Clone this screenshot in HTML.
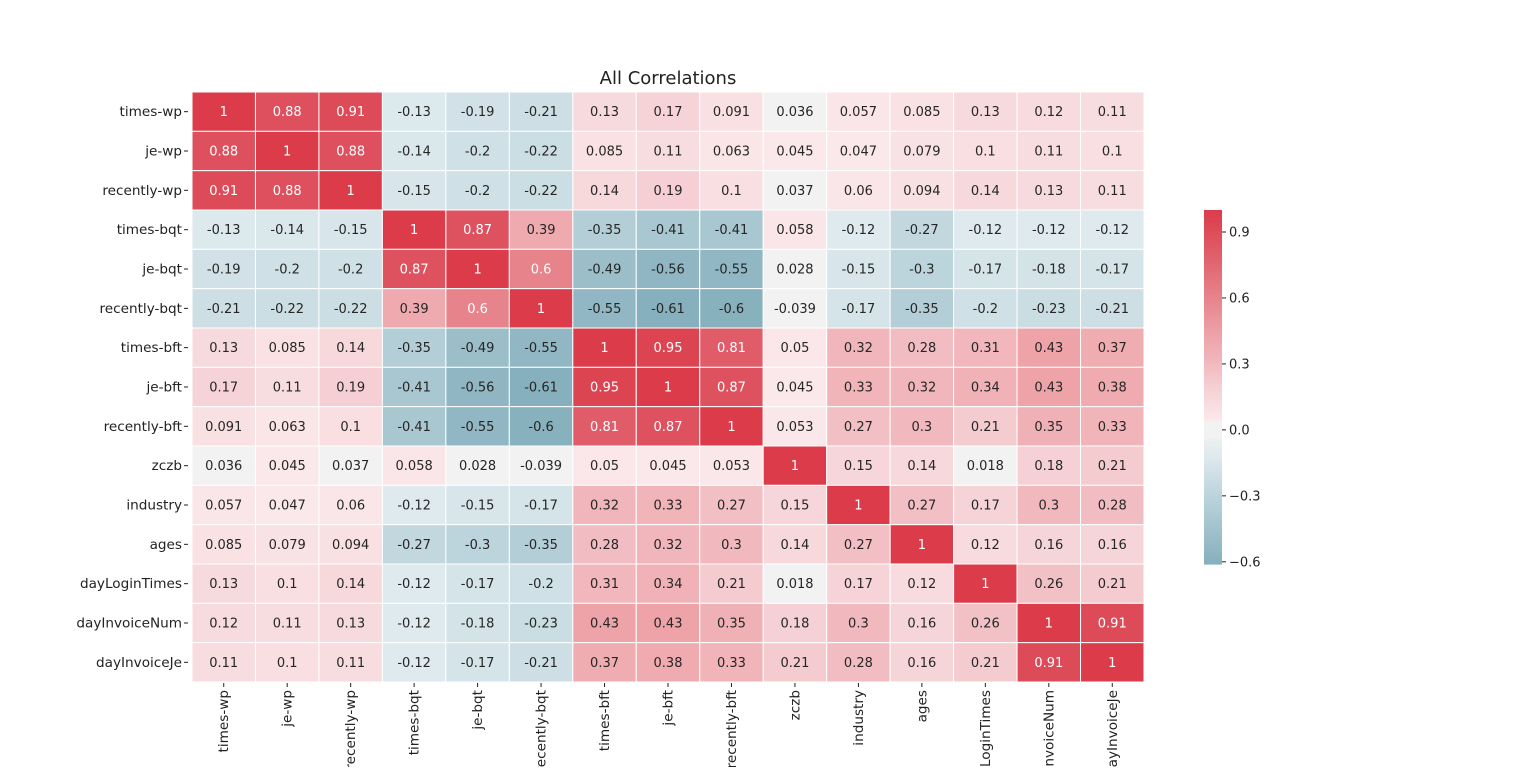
<!DOCTYPE html>
<html><head><meta charset="utf-8"><style>
body{margin:0;background:#fff;width:1536px;height:767px;overflow:hidden;font-family:"DejaVu Sans",sans-serif}
</style></head><body>
<svg id="chart" width="1536" height="767" xmlns="http://www.w3.org/2000/svg" font-family="DejaVu Sans, sans-serif">
<text x="668" y="84" font-size="18" text-anchor="middle" fill="#222">All Correlations</text>
<g id="cells"></g><g id="ylabels"></g><g id="xlabels"></g><g id="cbar"></g>
</svg>
<script>
const labels=["times-wp","je-wp","recently-wp","times-bqt","je-bqt","recently-bqt","times-bft","je-bft","recently-bft","zczb","industry","ages","dayLoginTimes","dayInvoiceNum","dayInvoiceJe"];
const matrix=[
[1,0.88,0.91,-0.13,-0.19,-0.21,0.13,0.17,0.091,0.036,0.057,0.085,0.13,0.12,0.11],
[0.88,1,0.88,-0.14,-0.2,-0.22,0.085,0.11,0.063,0.045,0.047,0.079,0.1,0.11,0.1],
[0.91,0.88,1,-0.15,-0.2,-0.22,0.14,0.19,0.1,0.037,0.06,0.094,0.14,0.13,0.11],
[-0.13,-0.14,-0.15,1,0.87,0.39,-0.35,-0.41,-0.41,0.058,-0.12,-0.27,-0.12,-0.12,-0.12],
[-0.19,-0.2,-0.2,0.87,1,0.6,-0.49,-0.56,-0.55,0.028,-0.15,-0.3,-0.17,-0.18,-0.17],
[-0.21,-0.22,-0.22,0.39,0.6,1,-0.55,-0.61,-0.6,-0.039,-0.17,-0.35,-0.2,-0.23,-0.21],
[0.13,0.085,0.14,-0.35,-0.49,-0.55,1,0.95,0.81,0.05,0.32,0.28,0.31,0.43,0.37],
[0.17,0.11,0.19,-0.41,-0.56,-0.61,0.95,1,0.87,0.045,0.33,0.32,0.34,0.43,0.38],
[0.091,0.063,0.1,-0.41,-0.55,-0.6,0.81,0.87,1,0.053,0.27,0.3,0.21,0.35,0.33],
[0.036,0.045,0.037,0.058,0.028,-0.039,0.05,0.045,0.053,1,0.15,0.14,0.018,0.18,0.21],
[0.057,0.047,0.06,-0.12,-0.15,-0.17,0.32,0.33,0.27,0.15,1,0.27,0.17,0.3,0.28],
[0.085,0.079,0.094,-0.27,-0.3,-0.35,0.28,0.32,0.3,0.14,0.27,1,0.12,0.16,0.16],
[0.13,0.1,0.14,-0.12,-0.17,-0.2,0.31,0.34,0.21,0.018,0.17,0.12,1,0.26,0.21],
[0.12,0.11,0.13,-0.12,-0.18,-0.23,0.43,0.43,0.35,0.18,0.3,0.16,0.26,1,0.91],
[0.11,0.1,0.11,-0.12,-0.17,-0.21,0.37,0.38,0.33,0.21,0.28,0.16,0.21,0.91,1]];
const cbarTicks=[0.9,0.6,0.3,0.0,-0.3,-0.6];
const NS="http://www.w3.org/2000/svg";
const X0=192,X1=1144,Y0=92,Y1=682,n=labels.length,cw=(X1-X0)/n,ch=(Y1-Y0)/n;
const vmin=-0.61,vmax=1;
const stops=[[-0.61,[134,176,189]],[-0.3,[188,212,219]],[-0.12,[222,234,238]],[-0.04,[236,240,241]],[-0.0399,[242,242,242]],[0.0399,[242,242,242]],[0.04,[251,233,235]],[0.21,[244,204,208]],[0.3,[241,185,190]],[0.43,[237,163,168]],[0.81,[223,92,104]],[1,[220,60,74]]];
function color(v){
  if(v<=stops[0][0])return `rgb(${stops[0][1]})`;
  for(let k=1;k<stops.length;k++){
    if(v<=stops[k][0]){const a=stops[k-1],b=stops[k],t=(v-a[0])/(b[0]-a[0]);
      return `rgb(${a[1].map((c,i)=>Math.round(c+(b[1][i]-c)*t)).join(',')})`;}
  }
  return `rgb(${stops[stops.length-1][1]})`;
}
function mk(tag,attrs,parent){const e=document.createElementNS(NS,tag);for(const k in attrs)e.setAttribute(k,attrs[k]);parent.appendChild(e);return e;}
const cells=document.getElementById('cells');
matrix.forEach((row,i)=>row.forEach((v,j)=>{
  const r=mk('rect',{x:X0+j*cw,y:Y0+i*ch,width:cw,height:ch,fill:color(v),stroke:'#fff','stroke-width':1},cells);
  
  
  const t=mk('text',{x:X0+(j+0.5)*cw,y:Y0+(i+0.5)*ch+4.5,'font-size':13,'text-anchor':'middle',fill:v>=0.6?'#fff':'#262626'},cells);
  t.textContent=String(v);
  
  
}));
const yl=document.getElementById('ylabels'),xl=document.getElementById('xlabels');
labels.forEach((l,i)=>{
  const t=mk('text',{x:182,y:Y0+(i+0.5)*ch+4.5,'font-size':13.6,'text-anchor':'end',fill:'#222'},yl);
  t.textContent=l;
  
  
  mk('line',{x1:184,x2:188,y1:Y0+(i+0.5)*ch,y2:Y0+(i+0.5)*ch,stroke:'#222'},yl);
  const cx=X0+(i+0.5)*cw;
  mk('line',{x1:cx,x2:cx,y1:683,y2:687,stroke:'#222'},xl);
  const x=mk('text',{x:0,y:0,'font-size':13.6,'text-anchor':'end',fill:'#222',transform:`translate(${cx+4.5},690) rotate(-90)`},xl);
  x.textContent=l;
  
  
});
const cb=document.getElementById('cbar');
const CX=1204,CW=18,CT=210,CB=564;
const cy=v=>CB-(v-vmin)/(vmax-vmin)*(CB-CT);
for(let k=0;k<200;k++){
  const v=vmin+(vmax-vmin)*k/200, v2=vmin+(vmax-vmin)*(k+1)/200;
  mk('rect',{x:CX,y:cy(v2),width:CW,height:cy(v)-cy(v2)+0.6,fill:color(v)},cb);
}
const cbr=mk('rect',{x:CX,y:CT,width:CW,height:CB-CT,fill:'none'},cb);


cbarTicks.forEach(v=>{
  const y=cy(v);
  mk('line',{x1:CX+CW,x2:CX+CW+4,y1:y,y2:y,stroke:'#222'},cb);
  const t=mk('text',{x:CX+CW+7,y:y+4.5,'font-size':13,fill:'#222'},cb);
  t.textContent=(v<0?'\u2212':'')+Math.abs(v).toFixed(1);
  
  
});
</script>
</body></html>
